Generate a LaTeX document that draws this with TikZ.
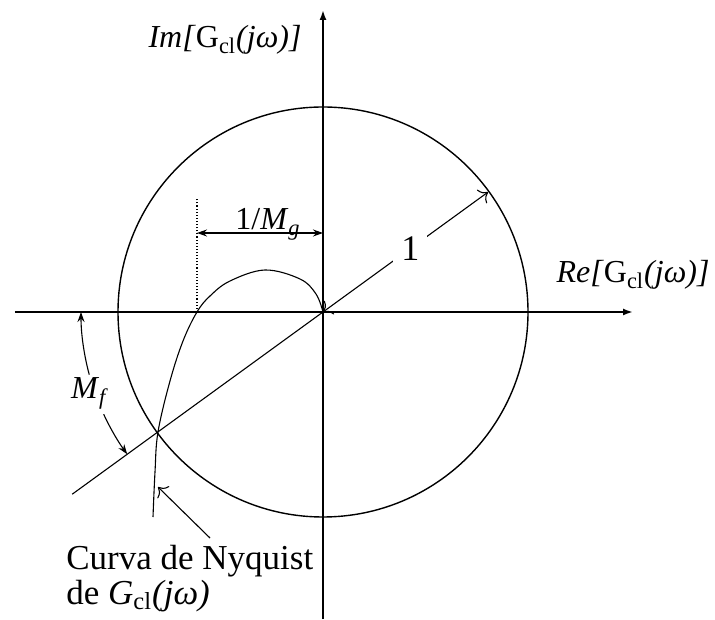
\documentclass[tikz,border=0pt]{standalone}
\usepackage{fontspec}
\setmainfont{Liberation Serif}
\usetikzlibrary{arrows.meta}

\begin{document}
\begin{tikzpicture}[x=0.5pt, y=0.5pt,
    eje/.style={line width=0.9pt, -{Latex[length=5pt, width=3.5pt]}},
    fina/.style={line width=0.55pt},
    cota/.style={fina, {Stealth[length=5pt, width=3.5pt]}-{Stealth[length=5pt, width=3.5pt]}},
    radio/.style={fina, {To[length=4pt]}-{To[length=4pt]}},
    rotulo/.style={font=\fontsize{16}{19}\selectfont, inner sep=1pt}]
    \useasboundingbox (-323,-307) rectangle (392,312);

    % Puntos
    \coordinate (O) at (0,0);
    \coordinate (Xi) at (-308,0);
    \coordinate (Xf) at (310,0);
    \coordinate (Yi) at (0,-307);
    \coordinate (Yf) at (0,302);
    \coordinate (P) at (36:204);      % radio unidad
    \coordinate (Q) at (216:205);     % corte con el circulo
    \coordinate (L) at (216:310);     % fin de la recta
    \coordinate (G) at (-126,0);      % corte de Nyquist con el eje real

    % Ejes
    \draw[eje] (Xi) -- (Xf);
    \draw[eje] (Yi) -- (Yf);
    \node[rotulo, anchor=base] (im) at (-98,264) {\textit{Im[}G\textsubscript{cl}\textit{(jω)]}};
    \node[rotulo, anchor=base] (re) at (310,29) {\textit{Re[}G\textsubscript{cl}\textit{(jω)]}};

    % Circulo unidad
    \draw[line width=0.7pt] (O) circle[radius=205];
    \draw[radio] (O) -- (P) node[pos=0.53, fill=white, inner sep=4pt, font=\fontsize{18}{20}\selectfont] (uno) {1};
    \draw[fina] (O) -- (L);

    % Curva de Nyquist
    \draw[fina] plot[smooth, tension=0.6] coordinates {(0,0) (-7,18) (-23,33) (-58,42)
        (-93,31) (-113,16) (-126,0) (-140,-29) (-153,-69) (-165,-120) (-168,-160) (-170,-205)};

    % Margen de ganancia
    \coordinate (Gs) at (-126,114);
    \draw[fina, densely dotted] (G) -- (Gs);
    \coordinate (Ma) at (-126,79);
    \coordinate (Mb) at (0,79);
    \draw[cota] (Ma) -- (Mb);
    \node[rotulo, anchor=base] (mg) at (-55,82) {1/\textit{M}\textsubscript{\textit{g}}};

    % Margen de fase
    \draw[fina, -{Stealth[length=5pt, width=3.5pt]}] (195:242) arc[start angle=195, end angle=180, radius=242];
    \draw[fina, -{Stealth[length=5pt, width=3.5pt]}] (205:242) arc[start angle=205, end angle=216, radius=242];
    \node[rotulo, anchor=base] (mf) at (-233,-87) {\textit{M}\textsubscript{\textit{f}}};

    % Etiqueta de la curva
    \node[font=\fontsize{17.5}{20}\selectfont, anchor=base west, inner sep=0pt] (curva1) at (-257,-257) {Curva de Nyquist};
    \node[font=\fontsize{17.5}{20}\selectfont, anchor=base west, inner sep=0pt] (curva2) at (-257,-292) {de \textit{G}\textsubscript{cl}\textit{(jω)}};
    \coordinate (T) at (-113,-226);
    \coordinate (N) at (-165,-175);
    \draw[fina, -{To[length=4pt]}] (T) -- (N);
  \end{tikzpicture}
\end{document}
